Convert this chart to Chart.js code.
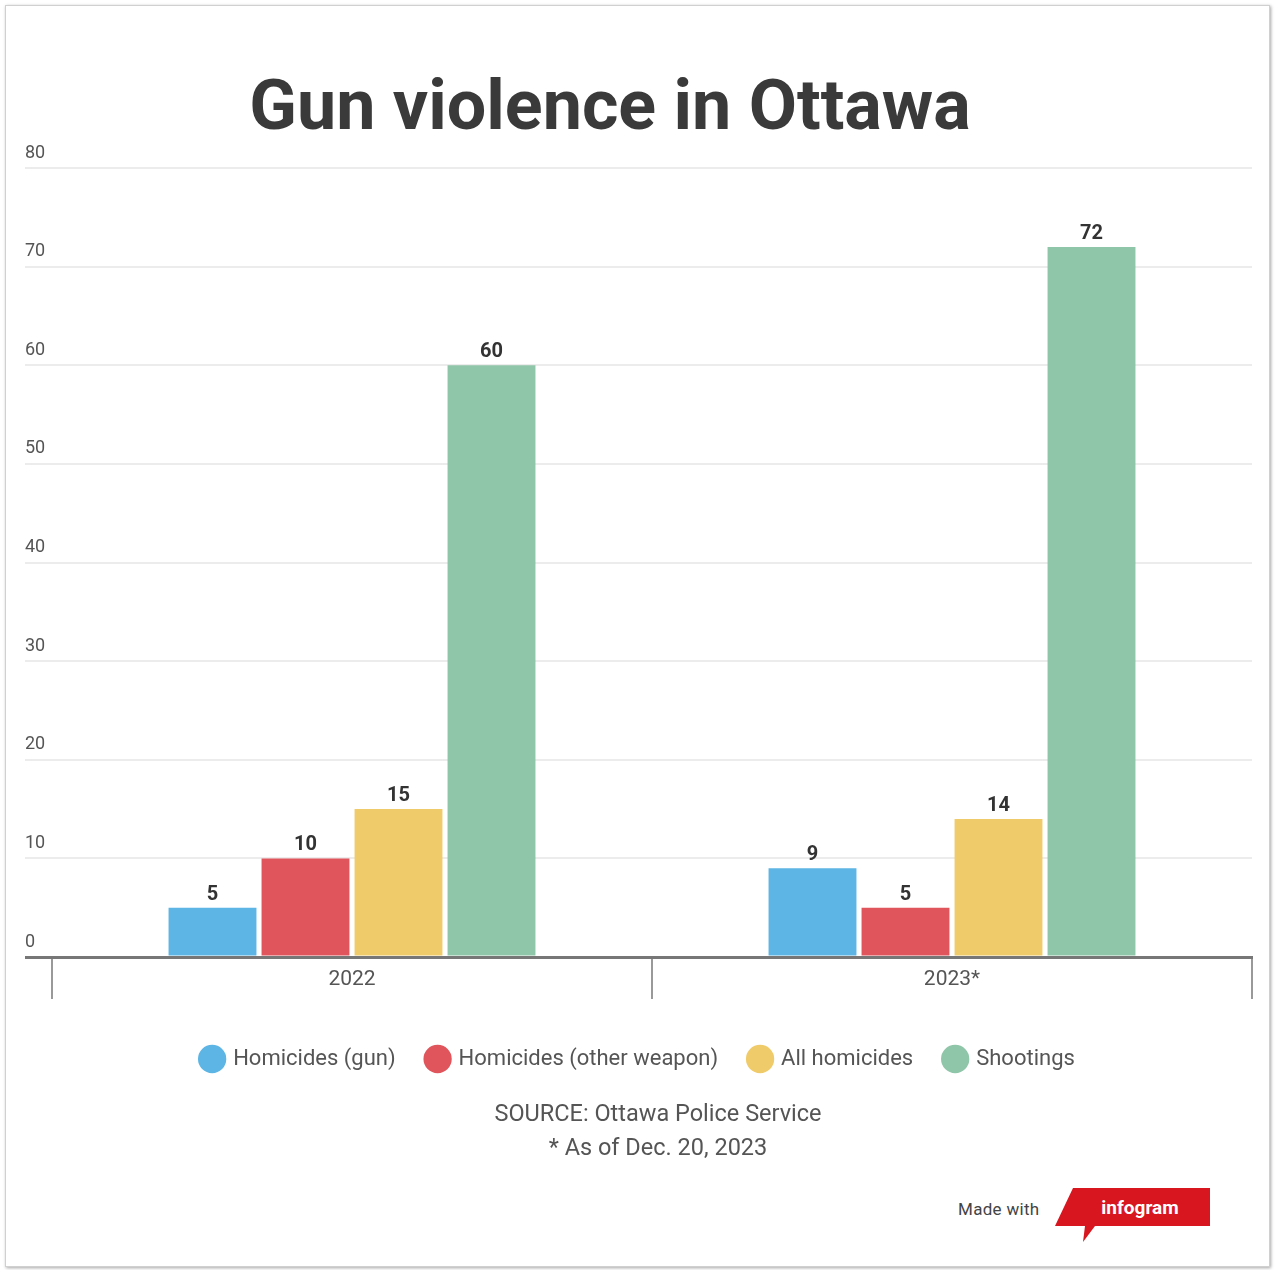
<!DOCTYPE html>
<html>
<head>
<meta charset="utf-8">
<script src="https://cdn.jsdelivr.net/npm/chart.js@4.4.0/dist/chart.umd.min.js"></script>
<style>
  body { margin: 0; background: #fff; font-family: Roboto, "Open Sans", sans-serif; }
  #wrap { position: relative; width: 1275px; height: 1270px; overflow: hidden; }
  #frame { position: absolute; left: 5px; top: 5px; width: 1263px; height: 1260px;
           border: 1px solid #d0d0d0; box-shadow: 1px 1px 3px rgba(0,0,0,0.35); }
  #title { position: absolute; left: 0; top: 65px; width: 1220px; text-align: center;
           font: bold 70px Roboto, sans-serif; color: #3a3a3a; line-height: 80px; }
  #graph { position: absolute; left: 0; top: 0; }
  .note { position: absolute; left: 0; width: 1316px; text-align: center;
          font: 23.5px Roboto, sans-serif; color: #555; line-height: 26px; }
  #made { position: absolute; left: 958px; top: 1199px; font: 17px Roboto, sans-serif; color: #444; letter-spacing: 0.3px; }
  #badge { position: absolute; left: 1050px; top: 1185px; }
</style>
</head>
<body>
<div id="wrap">
  <div id="frame"></div>
  <canvas id="graph" width="1275" height="1100"></canvas>
  <div id="title">Gun violence in Ottawa</div>
  <div class="note" style="top:1100px">SOURCE: Ottawa Police Service</div>
  <div class="note" style="top:1134px">* As of Dec. 20, 2023</div>
  <div id="made">Made with</div>
  <svg id="badge" width="170" height="62">
    <polygon points="23,3 160,3 160,41 45,41 33,57 35,41 5,41" fill="#d7161f"/>
    <text x="90" y="29" text-anchor="middle" font-family="Roboto, sans-serif" font-size="19" font-weight="bold" fill="#fff">infogram</text>
  </svg>
</div>

<script>
const years = ['2022', '2023*'];
const gunHomicides = [5, 9];
const otherHomicides = [10, 5];
const allHomicides = [15, 14];
const shootings = [60, 72];
const yTicks = [0, 10, 20, 30, 40, 50, 60, 70, 80];

const ctx = document.querySelector('#graph').getContext('2d');

// draws the number above each bar
const valueLabels = {
    id: 'valueLabels',
    afterDatasetsDraw(chart) {
        const c = chart.ctx;
        c.save();
        c.font = 'bold 20px Roboto';
        c.fillStyle = '#333';
        c.textAlign = 'center';
        c.textBaseline = 'bottom';
        chart.data.datasets.forEach((ds, i) => {
            chart.getDatasetMeta(i).data.forEach((bar, j) => {
                c.fillText(ds.data[j], bar.x, bar.y - 3);
            });
        });
        c.restore();
    }
};

const barChart = new Chart(ctx, {
    type: 'bar',
    data: {
        labels: years,
        datasets: [
            { label: 'Homicides (gun)', data: gunHomicides, backgroundColor: '#5cb5e4' },
            { label: 'Homicides (other weapon)', data: otherHomicides, backgroundColor: '#e0545b' },
            { label: 'All homicides', data: allHomicides, backgroundColor: '#f0cb69' },
            { label: 'Shootings', data: shootings, backgroundColor: '#8fc5a8' }
        ]
    },
    plugins: [valueLabels],
    options: {
        responsive: false,
        animation: false,
        categoryPercentage: 0.62,
        barPercentage: 0.945,
        layout: { padding: { left: 25, right: 23, top: 168, bottom: 20 } },
        scales: {
            x: {
                grid: {
                    offset: true,
                    drawOnChartArea: false,
                    tickLength: 42,
                    color: '#999',
                    lineWidth: 2
                },
                border: { display: true, color: '#777', width: 3 },
                ticks: { padding: -32, color: '#555', font: { family: 'Roboto', size: 21 } },
                afterFit: (scale) => { scale.height = 59; }
            },
            y: {
                min: 0,
                max: 80,
                afterBuildTicks: (scale) => { scale.ticks = yTicks.map(v => ({ value: v })); },
                afterFit: (scale) => { scale.width = 27; },
                grid: {
                    tickLength: 27,
                    color: (c) => c.tick && c.tick.value === 0 ? '#777' : '#ececec',
                    lineWidth: (c) => c.tick && c.tick.value === 0 ? 3 : 2
                },
                border: { display: false },
                ticks: {
                    crossAlign: 'far',
                    labelOffset: -15,
                    padding: 0,
                    color: '#555',
                    font: { family: 'Roboto', size: 18 }
                }
            }
        },
        plugins: {
            tooltip: { enabled: false },
            legend: {
                position: 'bottom',
                labels: {
                    usePointStyle: true,
                    pointStyle: 'circle',
                    boxWidth: 20,
                    boxHeight: 20,
                    padding: 32,
                    color: '#555',
                    font: { family: 'Roboto', size: 22 }
                }
            }
        }
    }
});
</script>
</body>
</html>
